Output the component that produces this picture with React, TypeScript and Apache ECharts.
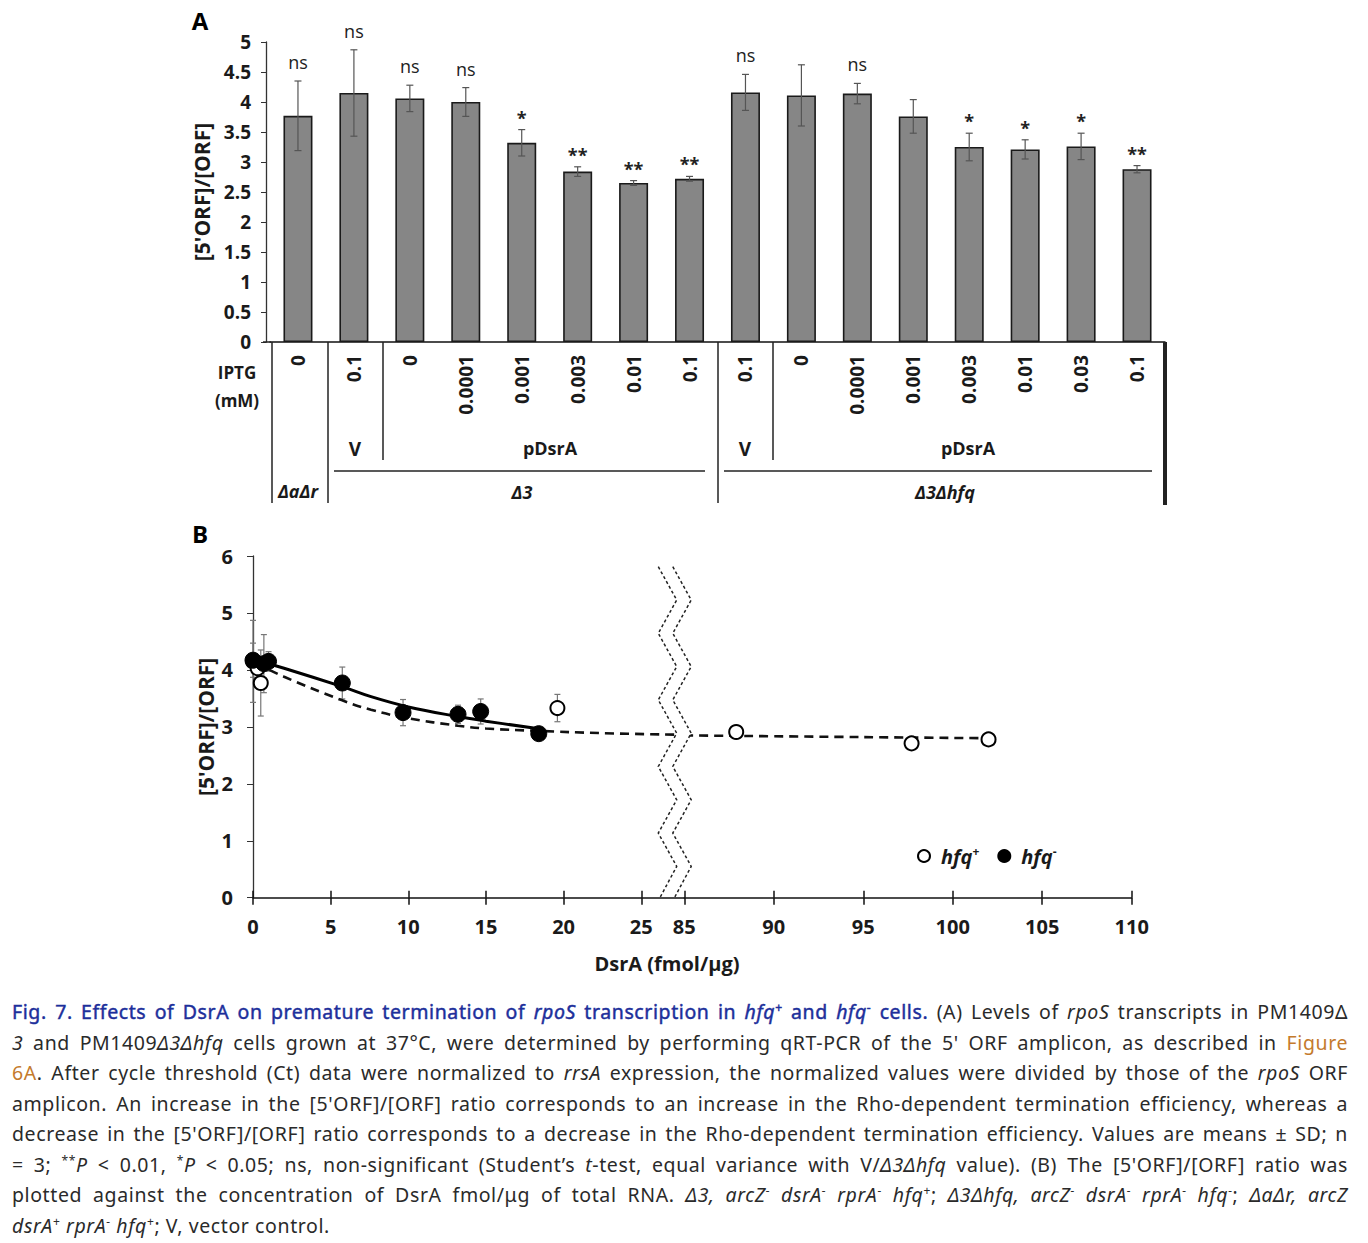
import React, { useEffect, useRef } from "react";
import * as echarts from "echarts";

// ---------- Panel A data ----------
const iptgLabels = ["0", "0.1", "0", "0.0001", "0.001", "0.003", "0.01", "0.1", "0.1", "0", "0.0001", "0.001", "0.003", "0.01", "0.03", "0.1"];
const ratioMeans = [3.77, 4.15, 4.06, 4.0, 3.32, 2.84, 2.65, 2.72, 4.16, 4.11, 4.14, 3.76, 3.25, 3.21, 3.26, 2.88];
const ratioSD = [0.58, 0.72, 0.22, 0.24, 0.22, 0.08, 0.04, 0.04, 0.3, 0.51, 0.17, 0.28, 0.23, 0.16, 0.22, 0.06];
const significance = ["ns", "ns", "ns", "ns", "*", "**", "**", "**", "ns", "", "ns", "", "*", "*", "*", "**"];
const yRangeA = [0, 5];

// ---------- Panel B data ----------
const leftTicks = [0, 5, 10, 15, 20, 25];
const hfqPlusLeftX = [0, 0.3, 0.5, 19.6];
const hfqPlusLeftY = [4.15, 4.03, 3.77, 3.33];
const hfqPlusLeftSD = [0.72, 0.22, 0.58, 0.24];
const hfqPlusRightX = [87.9, 97.7, 102.0];
const hfqPlusRightY = [2.91, 2.71, 2.78];
const hfqPlusRightSD = [0.05, 0.04, 0.04];
const hfqMinusX = [0, 0.7, 1.0, 5.75, 9.66, 13.2, 14.66, 18.4];
const hfqMinusY = [4.17, 4.11, 4.15, 3.77, 3.25, 3.22, 3.27, 2.88];
const hfqMinusSD = [0.3, 0.51, 0.17, 0.28, 0.23, 0.16, 0.22, 0.06];
const fitMinusX = [0.2, 2, 5.7, 7.6, 10, 13.2, 15, 18.3];
const fitMinusY = [4.17, 4.03, 3.71, 3.53, 3.35, 3.18, 3.1, 2.97];
const fitPlusLeftX = [0.2, 2, 5.7, 7.6, 10, 13.2, 15, 18.3, 22.4, 27.7];
const fitPlusLeftY = [4.12, 3.88, 3.47, 3.3, 3.15, 3.02, 2.97, 2.93, 2.89, 2.86];
const fitPlusRightX = [85, 95, 102];
const fitPlusRightY = [2.85, 2.82, 2.8];

const FF = '"Open Sans", sans-serif';
const INK = "#1a1a1a";

function zip3(a: number[], b: number[], c: number[]) {
  return a.map((v, i) => [v, b[i], c[i]]);
}

function errRender(capHalf: number, color: string, labels?: string[]) {
  return (params: any, api: any) => {
    const x = api.value(0);
    const m = api.value(1);
    const sd = api.value(2);
    const top = api.coord([x, m + sd]);
    const bot = api.coord([x, m - sd]);
    const st = { stroke: color, lineWidth: 1.2 };
    const children: any[] = [
      { type: "line", shape: { x1: top[0], y1: top[1], x2: bot[0], y2: bot[1] }, style: st },
      { type: "line", shape: { x1: top[0] - capHalf, y1: top[1], x2: top[0] + capHalf, y2: top[1] }, style: st },
      { type: "line", shape: { x1: bot[0] - capHalf, y1: bot[1], x2: bot[0] + capHalf, y2: bot[1] }, style: st },
    ];
    if (labels) {
      const s = labels[params.dataIndex];
      if (s) {
        const star = s.indexOf("*") >= 0;
        children.push({
          type: "text",
          x: top[0],
          y: top[1] - (star ? 12 : 19),
          style: {
            text: s,
            fontFamily: FF,
            fontSize: 18,
            fontWeight: star ? "bold" : "normal",
            fill: "#222",
            align: "center",
            verticalAlign: "middle",
          },
        });
      }
    }
    return { type: "group", children };
  };
}

function zig(x0: number, top: number, bottom: number) {
  const pts: number[][] = [];
  const step = 33.3;
  let k = 0;
  for (let y = top; y < bottom - 1; y += step) {
    pts.push([k % 2 === 0 ? x0 : x0 + 18.4, y]);
    k++;
  }
  pts.push([x0 + 2, bottom]);
  return pts;
}

function txt(x: number, y: number, text: string, size: number, extra: any = {}) {
  return {
    type: "text",
    x,
    y,
    z: 20,
    style: {
      text,
      fontFamily: FF,
      fontSize: size,
      fontWeight: "bold",
      fill: INK,
      align: "center",
      verticalAlign: "middle",
      ...extra,
    },
  };
}

function ln(x1: number, y1: number, x2: number, y2: number, w = 1.5) {
  return { type: "line", z: 20, shape: { x1, y1, x2, y2 }, style: { stroke: "#222", lineWidth: w } };
}

function Chart() {
  const ref = useRef<HTMLDivElement>(null);
  useEffect(() => {
    if (!ref.current) return;
    const chart = echarts.init(ref.current, undefined, { renderer: "svg" });
    const z1 = zig(658.3, 566.7, 897);
    const z2 = zig(672.8, 566.7, 897);
    const cover = [...z1.slice(0, -1), ...z2.slice(0, -1).reverse()];
    const axisNameStyle = { fontFamily: FF, fontSize: 21, fontWeight: "bold", color: INK };
    const option: any = {
      animation: false,
      backgroundColor: "#fff",
      textStyle: { fontFamily: FF },
      grid: [
        { left: 270, top: 42, width: 895, height: 300 },
        { left: 253, top: 556, width: 431.3, height: 341.7 },
        { left: 684.3, top: 556, width: 447.4, height: 341.7 },
      ],
      xAxis: [
        {
          type: "category",
          gridIndex: 0,
          data: iptgLabels,
          axisLine: { lineStyle: { color: "#111", width: 1.5 } },
          axisTick: { show: false },
          axisLabel: { rotate: 90, fontFamily: FF, fontSize: 19, fontWeight: "bold", color: INK, margin: 13 },
        },
        {
          type: "value",
          gridIndex: 1,
          position: "bottom",
          min: 0,
          max: 27.77,
          axisLine: { onZero: false, lineStyle: { color: "#111", width: 1.5 } },
          axisTick: { customValues: leftTicks, length: 7, lineStyle: { color: "#111", width: 1.5 } },
          axisLabel: { customValues: leftTicks, fontFamily: FF, fontSize: 20, fontWeight: "bold", color: INK, margin: 19 },
          splitLine: { show: false },
        },
        {
          type: "value",
          gridIndex: 1,
          position: "bottom",
          min: 0,
          max: 27.77,
          axisLine: { show: false, onZero: false },
          axisTick: { inside: true, customValues: leftTicks, length: 7, lineStyle: { color: "#111", width: 1.5 } },
          axisLabel: { show: false },
          splitLine: { show: false },
        },
        {
          type: "value",
          gridIndex: 2,
          position: "bottom",
          min: 85,
          max: 110,
          interval: 5,
          axisLine: { onZero: false, lineStyle: { color: "#111", width: 1.5 } },
          axisTick: { length: 7, lineStyle: { color: "#111", width: 1.5 } },
          axisLabel: { fontFamily: FF, fontSize: 20, fontWeight: "bold", color: INK, margin: 19 },
          splitLine: { show: false },
        },
        {
          type: "value",
          gridIndex: 2,
          position: "bottom",
          min: 85,
          max: 110,
          interval: 5,
          axisLine: { show: false, onZero: false },
          axisTick: { inside: true, length: 7, lineStyle: { color: "#111", width: 1.5 } },
          axisLabel: { show: false },
          splitLine: { show: false },
        },
      ],
      yAxis: [
        {
          type: "value",
          gridIndex: 0,
          offset: 4,
          min: yRangeA[0],
          max: yRangeA[1],
          interval: 0.5,
          name: "[5'ORF]/[ORF]",
          nameLocation: "middle",
          nameGap: 46,
          nameTextStyle: axisNameStyle,
          axisLine: { show: true, lineStyle: { color: "#333", width: 1.3 } },
          axisTick: { show: true, length: 5, lineStyle: { color: "#333" } },
          axisLabel: { fontFamily: FF, fontSize: 19, fontWeight: "bold", color: INK, margin: 15 },
          splitLine: { show: false },
        },
        {
          type: "value",
          gridIndex: 1,
          min: 0,
          max: 6,
          interval: 1,
          name: "[5'ORF]/[ORF]",
          nameLocation: "middle",
          nameGap: 37,
          nameTextStyle: axisNameStyle,
          axisLine: { show: true, lineStyle: { color: "#333", width: 1.3 } },
          axisTick: { show: true, length: 6, lineStyle: { color: "#333" } },
          axisLabel: { fontFamily: FF, fontSize: 20, fontWeight: "bold", color: INK, margin: 20 },
          splitLine: { show: false },
        },
        { type: "value", gridIndex: 2, min: 0, max: 6, show: false },
      ],
      legend: {
        left: 912,
        top: 840,
        itemWidth: 24,
        itemHeight: 12,
        itemGap: 18,
        selectedMode: false,
        data: [
          { name: "hfq+", icon: "circle" },
          { name: "hfq-", icon: "circle" },
        ],
        formatter: (n: string) => (n === "hfq+" ? "{t|hfq}{s|+}" : "{t|hfq}{s|-}"),
        textStyle: {
          rich: {
            t: { fontFamily: FF, fontSize: 20, fontWeight: "bold", fontStyle: "italic", color: INK, lineHeight: 22 },
            s: { fontFamily: FF, fontSize: 12, fontWeight: "bold", color: INK, verticalAlign: "top", lineHeight: 22 },
          },
        },
      },
      series: [
        {
          type: "bar",
          xAxisIndex: 0,
          yAxisIndex: 0,
          data: ratioMeans,
          barWidth: 29,
          itemStyle: { color: "#868686", borderColor: "#1a1a1a", borderWidth: 1.6 },
        },
        {
          type: "custom",
          xAxisIndex: 0,
          yAxisIndex: 0,
          data: ratioMeans.map((m, i) => [i, m, ratioSD[i]]),
          renderItem: errRender(3.5, "#555", significance),
          z: 5,
        },
        {
          name: "fit hfq+ left",
          type: "line",
          xAxisIndex: 1,
          yAxisIndex: 1,
          data: fitPlusLeftX.map((x, i) => [x, fitPlusLeftY[i]]),
          smooth: 0.4,
          symbol: "none",
          lineStyle: { color: "#111", width: 2.6, type: [9, 6] },
        },
        {
          name: "fit hfq+ right",
          type: "line",
          xAxisIndex: 3,
          yAxisIndex: 2,
          data: fitPlusRightX.map((x, i) => [x, fitPlusRightY[i]]),
          smooth: 0.4,
          symbol: "none",
          lineStyle: { color: "#111", width: 2.6, type: [9, 6] },
        },
        {
          name: "fit hfq-",
          type: "line",
          xAxisIndex: 1,
          yAxisIndex: 1,
          data: fitMinusX.map((x, i) => [x, fitMinusY[i]]),
          smooth: 0.4,
          symbol: "none",
          lineStyle: { color: "#000", width: 3 },
        },
        {
          type: "custom",
          xAxisIndex: 1,
          yAxisIndex: 1,
          data: zip3(hfqPlusLeftX, hfqPlusLeftY, hfqPlusLeftSD),
          renderItem: errRender(3, "#777"),
        },
        {
          type: "custom",
          xAxisIndex: 3,
          yAxisIndex: 2,
          data: zip3(hfqPlusRightX, hfqPlusRightY, hfqPlusRightSD),
          renderItem: errRender(3, "#777"),
        },
        {
          type: "custom",
          xAxisIndex: 1,
          yAxisIndex: 1,
          data: zip3(hfqMinusX, hfqMinusY, hfqMinusSD),
          renderItem: errRender(3, "#777"),
        },
        {
          name: "hfq+",
          type: "scatter",
          xAxisIndex: 1,
          yAxisIndex: 1,
          data: hfqPlusLeftX.map((x, i) => [x, hfqPlusLeftY[i]]),
          symbol: "circle",
          symbolSize: 14,
          itemStyle: { color: "#fff", borderColor: "#000", borderWidth: 2, opacity: 1 },
          z: 6,
        },
        {
          name: "hfq-",
          type: "scatter",
          xAxisIndex: 1,
          yAxisIndex: 1,
          data: hfqMinusX.map((x, i) => [x, hfqMinusY[i]]),
          symbol: "circle",
          symbolSize: 16,
          itemStyle: { color: "#000", borderColor: "#000", borderWidth: 1, opacity: 1 },
          z: 7,
        },
        {
          name: "hfq+",
          type: "scatter",
          xAxisIndex: 3,
          yAxisIndex: 2,
          data: hfqPlusRightX.map((x, i) => [x, hfqPlusRightY[i]]),
          symbol: "circle",
          symbolSize: 14,
          itemStyle: { color: "#fff", borderColor: "#000", borderWidth: 2, opacity: 1 },
          z: 6,
        },
      ],
      graphic: [
        txt(200, 20, "A", 24, { fill: "#000" }),
        txt(200, 533, "B", 24, { fill: "#000" }),
        // panel A table
        txt(237, 372, "IPTG", 17),
        txt(237, 400, "(mM)", 17),
        txt(355, 449, "V", 19),
        txt(550, 448, "pDsrA", 18),
        txt(745, 449, "V", 19),
        txt(968, 448, "pDsrA", 18),
        txt(298, 491, "ΔaΔr", 18, { fontStyle: "italic" }),
        txt(522, 492, "Δ3", 18, { fontStyle: "italic" }),
        txt(945, 492, "Δ3Δhfq", 18, { fontStyle: "italic" }),
        ln(263, 342, 271, 342),
        ln(272, 342, 272, 503),
        ln(328, 342, 328, 503),
        ln(383, 342, 383, 460),
        ln(718, 342, 718, 503),
        ln(773, 342, 773, 460),
        ln(1165, 342, 1165, 505, 4),
        ln(334, 471, 705, 471),
        ln(724, 471, 1152, 471),
        // panel B break
        { type: "polygon", z: 15, shape: { points: cover }, style: { fill: "#fff", stroke: null } },
        { type: "polyline", z: 16, shape: { points: z1 }, style: { stroke: "#222", lineWidth: 1.5, lineDash: [3, 2.5], fill: null } },
        { type: "polyline", z: 16, shape: { points: z2 }, style: { stroke: "#222", lineWidth: 1.5, lineDash: [3, 2.5], fill: null } },
        txt(667, 963, "DsrA (fmol/μg)", 20),
      ],
    };
    chart.setOption(option);
    return () => chart.dispose();
  }, []);
  return <div ref={ref} style={{ width: 1368, height: 990 }} />;
}

const blue = "#1d2f9b";
const orange = "#c47a2c";
const Sup = ({ c }: { c: string }) => (
  <sup style={{ fontSize: "0.62em", verticalAlign: "super", lineHeight: 0 }}>{c}</sup>
);
const Line = ({ children, last }: { children: any; last?: boolean }) => (
  <div style={{ textAlign: last ? "left" : "justify", textAlignLast: last ? "left" : "justify" } as any}>{children}</div>
);

function Caption() {
  return (
    <div
      style={{
        position: "absolute",
        left: 12,
        top: 997,
        width: 1336,
        fontFamily: '"Noto Sans", sans-serif',
        fontSize: 19.5,
        letterSpacing: "0.6px",
        lineHeight: "30.5px",
        color: "#2a2a2a",
      }}
    >
      <Line>
        <span style={{ color: blue, WebkitTextStroke: "0.45px " + blue } as any}>
          Fig. 7. Effects of DsrA on premature termination of <i>rpoS</i> transcription in <i>hfq</i>
          <Sup c="+" /> and <i>hfq</i>
          <Sup c="-" /> cells.
        </span>{" "}
        (A) Levels of <i>rpoS</i> transcripts in PM1409Δ
      </Line>
      <Line>
        <i>3</i> and PM1409<i>Δ3Δhfq</i> cells grown at 37°C, were determined by performing qRT-PCR of the 5' ORF amplicon, as described in{" "}
        <span style={{ color: orange }}>Figure</span>
      </Line>
      <Line>
        <span style={{ color: orange }}>6A</span>. After cycle threshold (Ct) data were normalized to <i>rrsA</i> expression, the normalized values were divided by those of the <i>rpoS</i> ORF
      </Line>
      <Line>
        amplicon. An increase in the [5'ORF]/[ORF] ratio corresponds to an increase in the Rho-dependent termination efficiency, whereas a
      </Line>
      <Line>
        decrease in the [5'ORF]/[ORF] ratio corresponds to a decrease in the Rho-dependent termination efficiency. Values are means ± SD; n
      </Line>
      <Line>
        = 3; <Sup c="**" />
        <i>P</i> &lt; 0.01, <Sup c="*" />
        <i>P</i> &lt; 0.05; ns, non-significant (Student’s <i>t</i>-test, equal variance with V/<i>Δ3Δhfq</i> value). (B) The [5'ORF]/[ORF] ratio was
      </Line>
      <Line>
        plotted against the concentration of DsrA fmol/μg of total RNA.{" "}
        <i>
          Δ3, arcZ<Sup c="-" /> dsrA<Sup c="-" /> rprA<Sup c="-" /> hfq<Sup c="+" />
        </i>
        ;{" "}
        <i>
          Δ3Δhfq, arcZ<Sup c="-" /> dsrA<Sup c="-" /> rprA<Sup c="-" /> hfq<Sup c="-" />
        </i>
        ; <i>ΔaΔr, arcZ</i>
      </Line>
      <Line last>
        <i>
          dsrA<Sup c="+" /> rprA<Sup c="-" /> hfq<Sup c="+" />
        </i>
        ; V, vector control.
      </Line>
    </div>
  );
}

export default function App() {
  return (
    <div style={{ position: "absolute", left: 0, top: 0, width: 1368, height: 1243, background: "#fff" }}>
      <Chart />
      <Caption />
    </div>
  );
}
